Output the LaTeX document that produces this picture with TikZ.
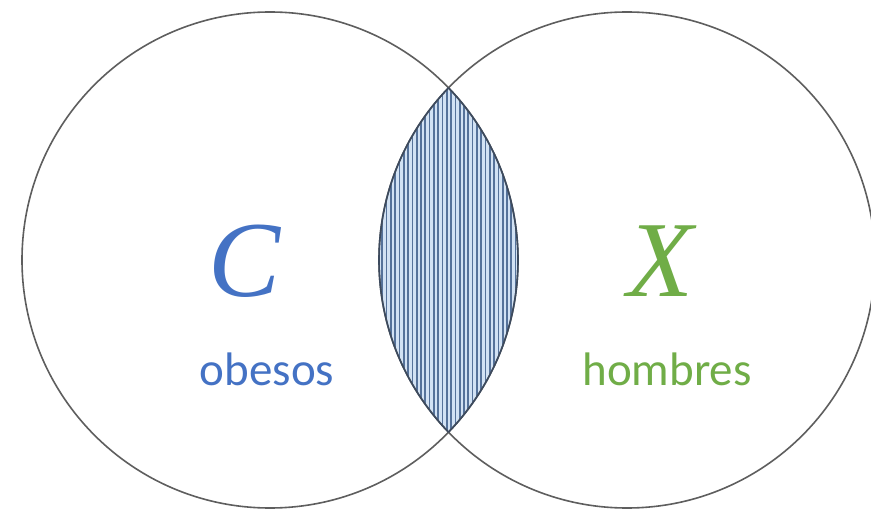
\documentclass[tikz,border=0pt]{standalone}
\usepackage{fontspec}
\setmainfont{Carlito}
\newfontfamily\letterfont{Liberation Serif}
\definecolor{cblue}{HTML}{4472C4}
\definecolor{cgreen}{HTML}{70AD47}
\definecolor{ringgray}{HTML}{5E5E5E}
\definecolor{lensfill}{HTML}{D2E2F4}
\definecolor{hatchcol}{HTML}{55729A}
\definecolor{lensedge}{HTML}{3C4A5E}
\tikzset{
  ring/.style={draw=ringgray, line width=1.6pt},
  hatchline/.style={draw=hatchcol, line width=1.7pt},
  lensline/.style={draw=lensedge, line width=1.6pt},
  bigletter/.style={anchor=base, font=\letterfont\itshape\fontsize{108}{108}\selectfont},
  word/.style={anchor=base, font=\fontsize{47}{47}\selectfont}
}
\begin{document}
\begin{tikzpicture}[x=1pt,y=-1pt]
\useasboundingbox (0,0) rectangle (871,513);
\fill[white] (0,0) rectangle (871,513);
% lens
\begin{scope}
  \clip (270,260) circle (248pt);
  \clip (627,260) circle (248pt);
  \fill[lensfill] (360,0) rectangle (540,513);
  \foreach \x in {378,382.3,...,530} \draw[hatchline] (\x,0) -- (\x,513);
\end{scope}
% circles
\draw[ring] (270,260) circle (248pt);
\draw[ring] (627,260) circle (248pt);
\begin{scope}
  \clip (270,260) circle (248pt);
  \draw[lensline] (627,260) circle (248pt);
\end{scope}
\begin{scope}
  \clip (627,260) circle (248pt);
  \draw[lensline] (270,260) circle (248pt);
\end{scope}
% labels
\node[bigletter, text=cblue] (C) at (245,297) {C};
\node[word, text=cblue] (obesos) at (267,385) {obesos};
\node[bigletter, text=cgreen] (X) at (660,297) {X};
\node[word, text=cgreen] (hombres) at (667,385) {hombres};
\end{tikzpicture}
\end{document}
